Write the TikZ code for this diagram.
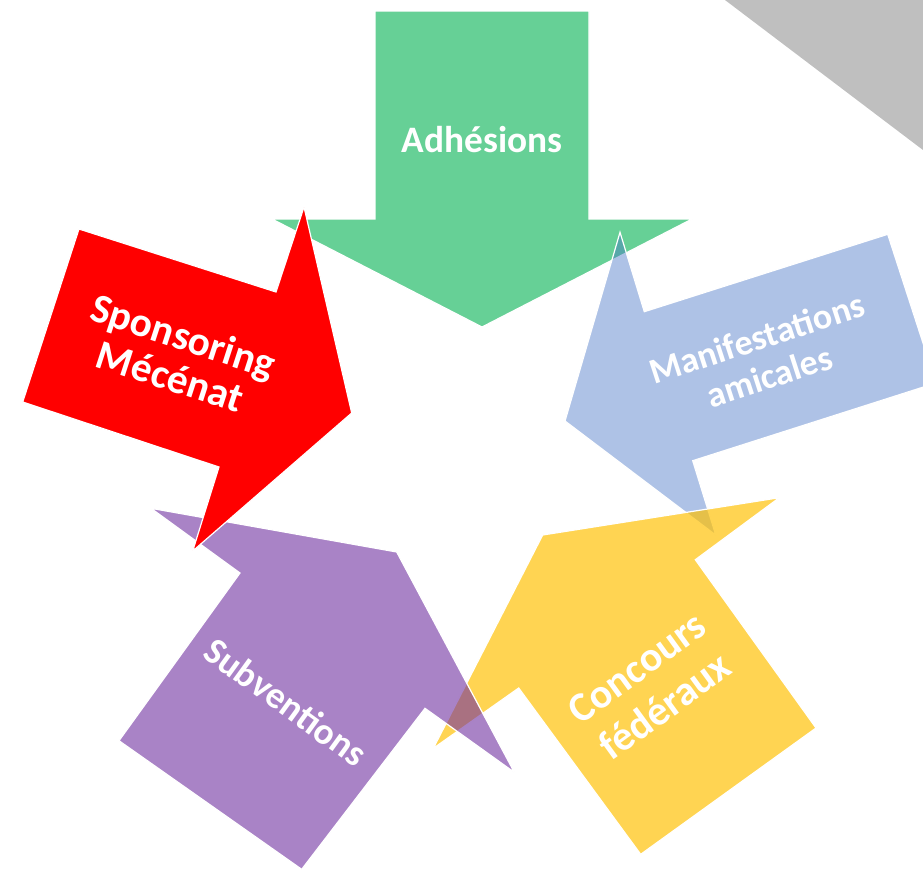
\documentclass[tikz,border=0pt]{standalone}
\usepackage{fontspec}
\setmainfont{Carlito}
\usetikzlibrary{positioning}
\definecolor{arrowgreen}{HTML}{00B050}
\definecolor{arrowblue}{HTML}{4472C4}
\definecolor{arrowyellow}{HTML}{FFC000}
\definecolor{arrowpurple}{HTML}{7030A0}
\definecolor{cornergray}{HTML}{BFBFBF}
\tikzset{
	bigarrow/.style={
		draw=white,
		line width=0.9pt,
		line join=miter
	},
	caption/.style={
		text=white,
		align=center,
		inner sep=0pt
	}
}

\begin{document}
\begin{tikzpicture}[x=0.75pt,y=-0.75pt]
	\useasboundingbox (0,0) rectangle (923,872);
	\clip (0,0) rectangle (923,872);
	\fill[cornergray] (725,0) -- (923,0) -- (923,150) -- cycle;
	
	\filldraw[bigarrow, fill=arrowgreen, fill opacity=0.6] (375,11) -- (589,11) -- (589,219) -- (692,219) -- (482,327) -- (272,219) -- (375,219) -- cycle;
	\filldraw[bigarrow, fill=arrowblue, fill opacity=0.43] (887.7,234.3) -- (936,383) -- (692.7,460.7) -- (715.7,535) -- (565,421) -- (620,232.3) -- (644.3,311.7) -- cycle;
	\filldraw[bigarrow, fill=arrowyellow, fill opacity=0.68] (779.3,497.7) -- (695.3,559.7) -- (816,728) -- (640.7,854.3) -- (518.7,688) -- (433.3,748.3) -- (542.7,535) -- cycle;
	\filldraw[bigarrow, fill=arrowpurple, fill opacity=0.6] (151,508.3) -- (240,573) -- (119,740.7) -- (301.7,869.3) -- (425,708.3) -- (514.3,772.3) -- (396.7,552) -- cycle;
	\filldraw[bigarrow, fill=red] (79,229) -- (276,292) -- (304,207) -- (351.7,413) -- (192.7,551) -- (219,467) -- (22.7,402) -- cycle;
	
	\node[caption, font=\fontsize{28}{32}\selectfont\bfseries] (Adhesions) at (482,140) {Adhésions};
	\node[caption, font=\fontsize{31}{32}\selectfont\bfseries, rotate=-18] (Sponsoring) at (177,356) {Sponsoring\\ Mécénat};
	\node[caption, font=\fontsize{27}{30}\selectfont\bfseries, rotate=18] (Manifestations) at (763,357) {Manifestations\\ amicales};
	\node[caption, font=\fontsize{31}{36}\selectfont\bfseries, rotate=36] (Concours) at (651,687) {Concours\\ fédéraux};
	\node[caption, font=\fontsize{28}{32}\selectfont\bfseries, rotate=-36] (Subventions) at (286,702) {Subventions};
\end{tikzpicture}
\end{document}
